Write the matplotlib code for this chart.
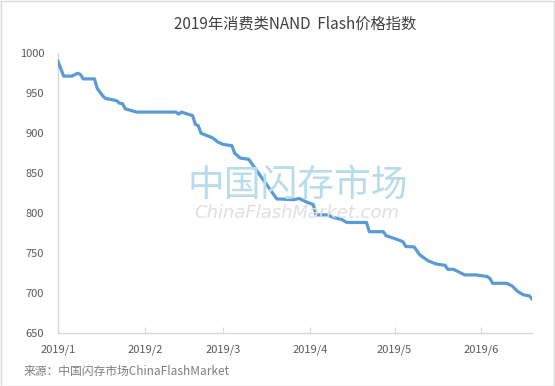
import matplotlib
matplotlib.use('Agg')
import matplotlib.pyplot as plt
import pandas as pd
from matplotlib.patches import Rectangle

plt.rcParams['font.family'] = ['Noto Sans CJK SC', 'DejaVu Sans']

# NAND Flash price index
dates = ['2019-01-01', '2019-01-03', '2019-01-06', '2019-01-08', '2019-01-09',
         '2019-01-10', '2019-01-14', '2019-01-15', '2019-01-17', '2019-01-18',
         '2019-01-21', '2019-01-22', '2019-01-23', '2019-01-24', '2019-01-25',
         '2019-01-27', '2019-01-29', '2019-02-12', '2019-02-13', '2019-02-14',
         '2019-02-18', '2019-02-19', '2019-02-20', '2019-02-21', '2019-02-25',
         '2019-02-27', '2019-03-01', '2019-03-04', '2019-03-05', '2019-03-07',
         '2019-03-10', '2019-03-20', '2019-03-26', '2019-03-28', '2019-03-31',
         '2019-04-02', '2019-04-03', '2019-04-07', '2019-04-09', '2019-04-12',
         '2019-04-14', '2019-04-21', '2019-04-22', '2019-04-27', '2019-04-28',
         '2019-05-01', '2019-05-04', '2019-05-05', '2019-05-08', '2019-05-10',
         '2019-05-13', '2019-05-16', '2019-05-19', '2019-05-20', '2019-05-22',
         '2019-05-26', '2019-05-30', '2019-06-03', '2019-06-04', '2019-06-05',
         '2019-06-10', '2019-06-12', '2019-06-14', '2019-06-16', '2019-06-18',
         '2019-06-19']
index = [990, 971.5, 971.5, 975, 973.5,
         968, 968, 956, 946.5, 943.5,
         941.5, 940.5, 937.5, 937, 930.5,
         928.5, 926.5, 926.5, 924, 926.5,
         922, 911, 909.5, 900, 894.5,
         889, 886, 884.5, 875, 869,
         867.5, 818, 817, 818.5, 813.5,
         811, 798, 798, 795, 792.5,
         788.5, 788.5, 777, 777, 772,
         768.5, 764.5, 758.5, 758, 748,
         740.5, 736.5, 735, 730, 730,
         723, 723, 721, 718.5, 712.5,
         712.5, 709, 702, 698, 697,
         693]
month_ticks = ['2019-01-01', '2019-02-01', '2019-03-01', '2019-04-01',
               '2019-05-01', '2019-06-01']
month_labels = ['2019/1', '2019/2', '2019/3', '2019/4', '2019/5', '2019/6']

x = pd.to_datetime(dates)

fig = plt.figure(figsize=(5.55, 3.86), dpi=100)
ax = fig.add_axes([0.1045, 0.1365, 0.854, 0.7255])

ax.plot(x, index, color='#5b9bd5', linewidth=2.3, solid_joinstyle='round', zorder=3)

ax.set_ylim(650, 1000)
ax.set_yticks(range(650, 1001, 50))
ax.set_xlim(x[0], x[-1])
ax.set_xticks(pd.to_datetime(month_ticks))
ax.set_xticklabels(month_labels)

for side in ['top', 'right']:
    ax.spines[side].set_visible(False)
for side in ['left', 'bottom']:
    ax.spines[side].set_color('#d9d9d9')
    ax.spines[side].set_linewidth(1)
ax.tick_params(axis='x', direction='in', length=4, color='#d9d9d9',
               labelsize=8, labelcolor='#595959', pad=8)
ax.tick_params(axis='y', direction='in', length=0, color='#d9d9d9',
               labelsize=8, labelcolor='#595959', pad=10)

ax.set_title('2019年消费类NAND  Flash价格指数', fontsize=11, color='#404040',
             pad=18)

# watermark
fig.text(0.537, 0.52, '中国闪存市场', fontsize=26.5, color='#b7dcec',
         ha='center', va='center', zorder=1)
fig.text(0.534, 0.449, 'ChinaFlashMarket.com', fontsize=13, color='#e0e0e0',
         family='DejaVu Sans', style='italic',
         ha='center', va='center', zorder=1)

fig.text(0.043, 0.037, '来源：中国闪存市场ChinaFlashMarket', fontsize=8.5,
         color='#7f7f7f', ha='left', va='center')

fig.patches.append(Rectangle((0.001, 0.001), 0.997, 0.996, transform=fig.transFigure,
                             fill=False, edgecolor='#d9d9d9', linewidth=1))

fig.savefig('out.png', dpi=100)
